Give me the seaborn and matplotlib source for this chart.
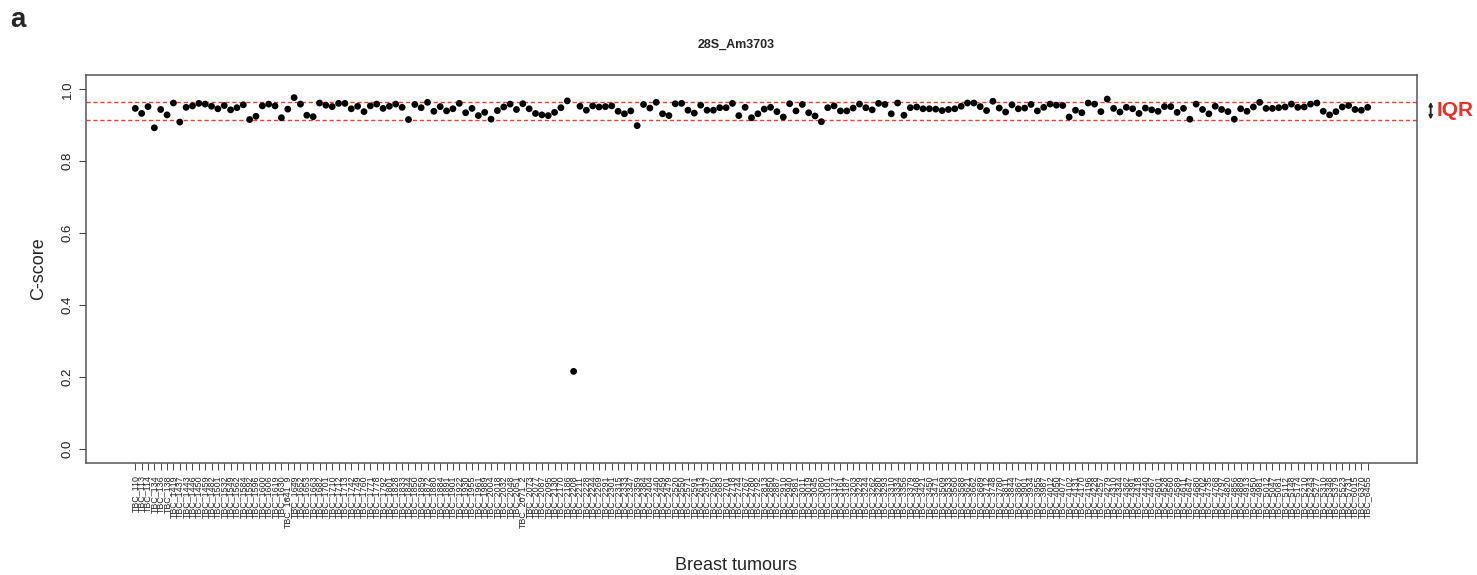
import numpy as np
import pandas as pd
import seaborn as sns
import matplotlib
matplotlib.use("Agg")
import matplotlib.pyplot as plt

# C-score per tumour (left to right)
cscore = [
    0.947, 0.933, 0.952, 0.893, 0.944, 0.929, 0.962, 0.909, 0.950, 0.954,
    0.961, 0.959, 0.953, 0.946, 0.955, 0.943, 0.949, 0.957, 0.916, 0.925,
    0.954, 0.959, 0.954, 0.921, 0.945, 0.977, 0.959, 0.928, 0.924, 0.962,
    0.956, 0.952, 0.961, 0.961, 0.946, 0.953, 0.938, 0.954,
    0.959, 0.947, 0.953, 0.959, 0.950, 0.916, 0.958, 0.949, 0.964, 0.939,
    0.952, 0.940, 0.946, 0.961, 0.935, 0.947, 0.927, 0.936, 0.917, 0.941,
    0.951, 0.959, 0.944, 0.960, 0.946, 0.933, 0.929, 0.927, 0.936, 0.949,
    0.968, 0.215, 0.953, 0.942, 0.954, 0.951, 0.952, 0.954, 0.939,
    0.932, 0.940, 0.899, 0.958, 0.948, 0.964, 0.932, 0.927, 0.960, 0.961,
    0.942, 0.934, 0.956, 0.942, 0.942, 0.949, 0.949, 0.961, 0.927, 0.950,
    0.921, 0.932, 0.945, 0.950, 0.938, 0.923, 0.960, 0.940, 0.958, 0.935,
    0.926, 0.910, 0.949, 0.954, 0.940, 0.940, 0.948, 0.959, 0.949,
    0.943, 0.961, 0.958, 0.932, 0.962, 0.928, 0.949, 0.951, 0.946, 0.946,
    0.945, 0.941, 0.944, 0.946, 0.953, 0.962, 0.962, 0.952, 0.941, 0.967,
    0.948, 0.937, 0.957, 0.946, 0.948, 0.958, 0.940, 0.950, 0.959, 0.956,
    0.955, 0.923, 0.942, 0.935, 0.962, 0.959, 0.938, 0.973, 0.947,
    0.937, 0.950, 0.946, 0.933, 0.948, 0.943, 0.939, 0.952, 0.952, 0.936,
    0.947, 0.917, 0.959, 0.944, 0.932, 0.953, 0.944, 0.938, 0.917, 0.946,
    0.939, 0.951, 0.964, 0.947, 0.947, 0.949, 0.951, 0.959, 0.950, 0.951,
    0.959, 0.962, 0.939, 0.929, 0.938, 0.951, 0.955, 0.944, 0.942, 0.950,
]

tumour_ids = """
110 113 114 134 136 138 1419 1437 1443 1446
1450 1459 1482 1501 1532 1549 1562 1584 1592 1596
1600 1606 1619 1630 1641_9 1649 1652 1653 1663 1682
1701 1710 1712 1713 1742 1749 1760 1771 1778 1792
1801 1828 1833 1844 1850 1859 1872 1880 1884 1891
1901 1922 1930 1955 1961 1989 2004 2018 2032 2048
2051 2071_2 2073 2077 2087 2095 2130 2170 2186 2208
2211 2228 2244 2269 2291 2301 2315 2333 2347 2359
2384 2404 2440 2459 2479 2520 2550 2571 2591 2613
2637 2650 2683 2701 2718 2744 2767 2780 2792 2813
2850 2887 2910 2940 2981 3011 3019 3045 3080 3101
3137 3161 3187 3203 3229 3244 3262 3280 3293 3310
3334 3356 3379 3408 3421 3450 3471 3509 3533 3560
3588 3621 3662 3689 3712 3748 3780 3811 3844 3867
3901 3934 3955 3987 4012 4050 4077 4102 4131 4170
4196 4228 4257 4279 4310 4344 4362 4391 4418 4440
4467 4501 4528 4560 4589 4611 4647 4680 4702 4735
4768 4797 4820 4856 4889 4913 4950 4981 5012 5047
5081 5112 5148 5174 5210 5243 5277 5310 5348 5379
5523 5731 6015 6370 6455
""".split()
tumour_labels = ["TBC_" + t for t in tumour_ids]

iqr_bounds = [0.916, 0.965]
y_ticks = [0.0, 0.2, 0.4, 0.6, 0.8, 1.0]

df = pd.DataFrame({"pos": np.arange(1, len(cscore) + 1), "cscore": cscore})

sns.set_theme(style="white")
plt.rcParams["font.family"] = ["Liberation Sans", "DejaVu Sans"]

fig = plt.figure(figsize=(14.77, 5.75), dpi=100)
ax = fig.add_axes([86 / 1477, 1 - 463 / 575, 1331 / 1477, 388 / 575])

sns.scatterplot(data=df, x="pos", y="cscore", color="black", s=24,
                edgecolor="none", ax=ax, zorder=3)

for b in iqr_bounds:
    ax.axhline(b, color="#e8412f", lw=1.0, ls=(0, (3, 2)), zorder=2)

n = len(cscore)
pad = 0.04 * (n - 1)
ax.set_xlim(1 - pad, n + pad)
ax.set_ylim(-0.04, 1.04)

ax.set_xticks(df["pos"])
ax.set_xticklabels(tumour_labels, rotation=90, fontsize=6.4, color="#222222")
ax.set_yticks(y_ticks)
ax.set_yticklabels([f"{t:.1f}" for t in y_ticks], rotation=90, va="center",
                   fontsize=9.5, color="#222222")
ax.tick_params(axis="x", bottom=True, length=5, width=0.7, pad=4, color="#444444")
ax.tick_params(axis="y", left=True, length=5, width=0.8, pad=4, color="#444444")

for s in ax.spines.values():
    s.set_color("#555555")
    s.set_linewidth(1.1)

ax.set_xlabel("")
ax.set_ylabel("C-score", fontsize=13)
ax.yaxis.set_label_coords(-0.029, 0.5)

fig.text(736 / 1477, 1 - 45 / 575, "28S_Am3703", ha="center", va="center",
         fontsize=9, fontweight="bold")
fig.text(736 / 1477, 1 - 565 / 575, "Breast tumours", ha="center", va="center",
         fontsize=13)
fig.text(10 / 1477, 1 - 20 / 575, "a", ha="left", va="center",
         fontsize=20, fontweight="bold")

# IQR marker outside the plot box
trans = ax.get_yaxis_transform()
ax.annotate("", xy=(1.0103, iqr_bounds[0]), xytext=(1.0103, iqr_bounds[1]),
            xycoords=trans, textcoords=trans, annotation_clip=False,
            arrowprops=dict(arrowstyle="<|-|>", color="#222222", lw=1.3,
                            mutation_scale=5, shrinkA=0, shrinkB=0))
ax.text(1.0148, np.mean(iqr_bounds), "IQR", transform=trans, ha="left",
        va="center", fontsize=15, fontweight="bold", color="#e8302a",
        clip_on=False)

fig.savefig("out.png", dpi=100)
